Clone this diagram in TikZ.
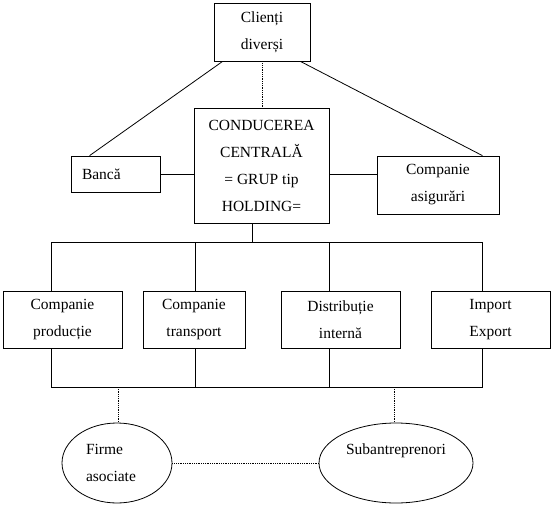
\documentclass[tikz,border=0pt]{standalone}
\usepackage{fontspec}
\setmainfont{Liberation Serif}
\usetikzlibrary{shapes.geometric}

\begin{document}
\begin{tikzpicture}[x=1pt, y=-1pt, line width=0.8pt,
    font=\fontsize{15.5}{27}\selectfont,
    box/.style={draw, rectangle, align=center, inner sep=0pt},
    oval/.style={draw, ellipse, inner sep=0pt},
    link/.style={densely dotted}]
    \useasboundingbox (0,0) rectangle (553,505);

    % Clients
    \node[box, minimum width=96pt, minimum height=58pt] (clienti) at (262,32) {Clienți\\diverși};

    % Holding
    \node[box, minimum width=135pt, minimum height=115pt] (conducere) at (261.5,165.5)
        {CONDUCEREA\\CENTRALĂ\\= GRUP tip\\HOLDING=};
    \node[box, align=left, text width=67pt, inner xsep=11pt, minimum height=36pt] (banca) at (115.5,174) {Bancă};
    \node[box, minimum width=122pt, minimum height=58pt] (asigurari) at (438,185) {Companie\\asigurări};

    \draw (banca.east) -- (banca.east -| conducere.west);
    \draw (banca.east -| conducere.east) -- (banca.east -| asigurari.west);
    \draw ([xshift=9pt]clienti.south west) -- ([xshift=19pt]banca.north west);
    \draw ([xshift=-10pt]clienti.south east) -- ([xshift=-17pt]asigurari.north east);
    \draw[link] (clienti.south) -- (clienti.south |- conducere.north);

    % Companies
    \node[box, minimum width=119pt, minimum height=57pt] (productie) at (62.5,319.5) {Companie\\producție};
    \node[box, minimum width=102pt, minimum height=57pt] (transport) at (194,319.5) {Companie\\transport};
    \node[box, minimum width=119pt, minimum height=57pt] (distributie) at (340.5,319.5) {Distribuție\\internă};
    \node[box, minimum width=119pt, minimum height=57pt] (import) at (490.5,319.5) {Import\\Export};

    % Upper bus
    \coordinate (hub) at (252,242);
    \coordinate (t1) at (51,242);
    \coordinate (t2) at (195,242);
    \coordinate (t3) at (329,242);
    \coordinate (t4) at (482,242);
    \draw (hub |- conducere.south) -- (hub);
    \draw (t1 |- productie.north) -- (t1) -- (t4) -- (t4 |- import.north);
    \draw (t2) -- (t2 |- transport.north);
    \draw (t3) -- (t3 |- distributie.north);

    % Lower bus
    \coordinate (u1) at (51,387);
    \coordinate (u2) at (195,387);
    \coordinate (u3) at (329,387);
    \coordinate (u4) at (482,387);
    \draw (u1 |- productie.south) -- (u1) -- (u4) -- (u4 |- import.south);
    \draw (u2) -- (u2 |- transport.south);
    \draw (u3) -- (u3 |- distributie.south);

    % Partners
    \node[oval, align=left, text width=62pt, minimum width=110pt, minimum height=80pt] (firme) at (117,463)
        {Firme\\asociate};
    \node[oval, align=center, minimum width=154pt, minimum height=80pt] (subantr) at (396,463)
        {Subantreprenori\\~};

    \coordinate (d1) at (118,387);
    \coordinate (d2) at (394,387);
    \draw[link] (d1) -- (d1 |- firme.north);
    \draw[link] (d2) -- (d2 |- subantr.north);
    \draw[link] (firme.east) -- (subantr.west);
\end{tikzpicture}
\end{document}
